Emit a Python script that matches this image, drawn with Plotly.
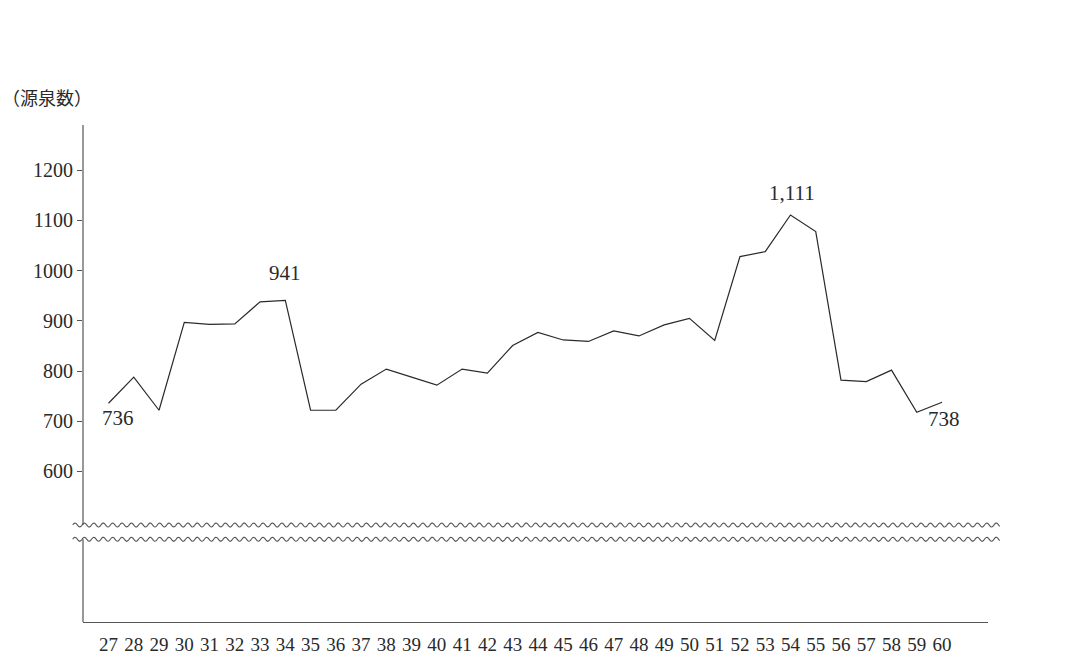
import numpy as np
import plotly.graph_objects as go

# ---- data ----
years = list(range(27, 61))
year_labels = [str(y) for y in years]
source_counts = [736, 788, 722, 897, 893, 894, 938, 941, 722, 722, 774, 804, 788, 772,
                 804, 796, 851, 877, 862, 859, 880, 870, 892, 905, 861, 1028, 1038, 1111,
                 1078, 782, 779, 802, 718, 738]
y_ticks = [600, 700, 800, 900, 1000, 1100, 1200]
callouts = {27: "736", 34: "941", 54: "1,111", 60: "738"}
callout_shift = {27: (9, -15), 34: (0, 27), 54: (2, 22), 60: (2, -17)}

W, H = 1074, 659
L, R, T, B = 83, 86, 125, 37
X_RANGE = [25.99, 61.82]
Y_RANGE = [300.2, 1290.2]
BREAK_UPPER, BREAK_LOWER = 493.4, 465.0

serif = "Liberation Serif, DejaVu Serif, serif"
ink = "#2a2a2a"

fig = go.Figure()
fig.add_trace(go.Scatter(x=years, y=source_counts, mode="lines",
                         line=dict(color=ink, width=1.2), hoverinfo="skip",
                         showlegend=False))

for yr, txt in callouts.items():
    v = source_counts[years.index(yr)]
    dx, dy = callout_shift[yr]
    fig.add_annotation(x=yr, y=v, text=txt, showarrow=False, xshift=dx, yshift=dy,
                       font=dict(family=serif, size=21, color=ink))

# y axis line, interrupted at the break
for y0, y1 in [(BREAK_UPPER, Y_RANGE[1]), (Y_RANGE[0], BREAK_LOWER)]:
    fig.add_shape(type="line", xref="paper", yref="y", x0=0, x1=0, y0=y0, y1=y1,
                  line=dict(color="#555", width=1.2))

# wavy break lines (decoration)
plot_w = W - L - R
xs_px = np.arange(72.7, 1000.5, 1.0)
for base in [BREAK_UPPER, BREAK_LOWER]:
    pts = []
    for xp in xs_px:
        xpaper = (xp - L) / plot_w
        yv = base + 4.0 * np.sin(2 * np.pi * (xp - 72.7) / 9.4)
        pts.append(f"{xpaper:.5f},{yv:.2f}")
    path = "M " + " L ".join(pts)
    fig.add_shape(type="path", xref="paper", yref="y", path=path,
                  line=dict(color="#555", width=1.1))

fig.add_annotation(xref="paper", yref="paper", x=(0 - L) / plot_w, y=(H - 97 - B) / (H - T - B),
                   xanchor="left", yanchor="middle", text="（源泉数）", showarrow=False,
                   font=dict(family="Noto Sans CJK JP", size=18, color=ink))

fig.update_xaxes(range=X_RANGE, tickmode="array", tickvals=years, ticktext=year_labels,
                 showline=True, linecolor="#555", linewidth=1.2, showgrid=False,
                 zeroline=False, ticks="outside", ticklen=5, tickcolor="rgba(0,0,0,0)",
                 automargin=False,
                 tickfont=dict(family=serif, size=19, color=ink))
fig.update_yaxes(range=Y_RANGE, tickmode="array", tickvals=y_ticks,
                 showline=False, showgrid=False, zeroline=False, ticks="outside",
                 ticklen=5, tickcolor="#555", tickwidth=1, automargin=False,
                 tickfont=dict(family=serif, size=20, color=ink))

fig.update_layout(width=W, height=H, margin=dict(l=L, r=R, t=T, b=B, autoexpand=False),
                  paper_bgcolor="white", plot_bgcolor="white", showlegend=False)

fig.write_html(
    "out.html",
    config={"displayModeBar": False, "responsive": False},
    post_script=(
        "var s=document.createElement('style');"
        "s.textContent='html,body{margin:0;padding:0;width:1074px;height:659px;overflow:hidden;}';"
        "document.head.appendChild(s);"
    ),
)
